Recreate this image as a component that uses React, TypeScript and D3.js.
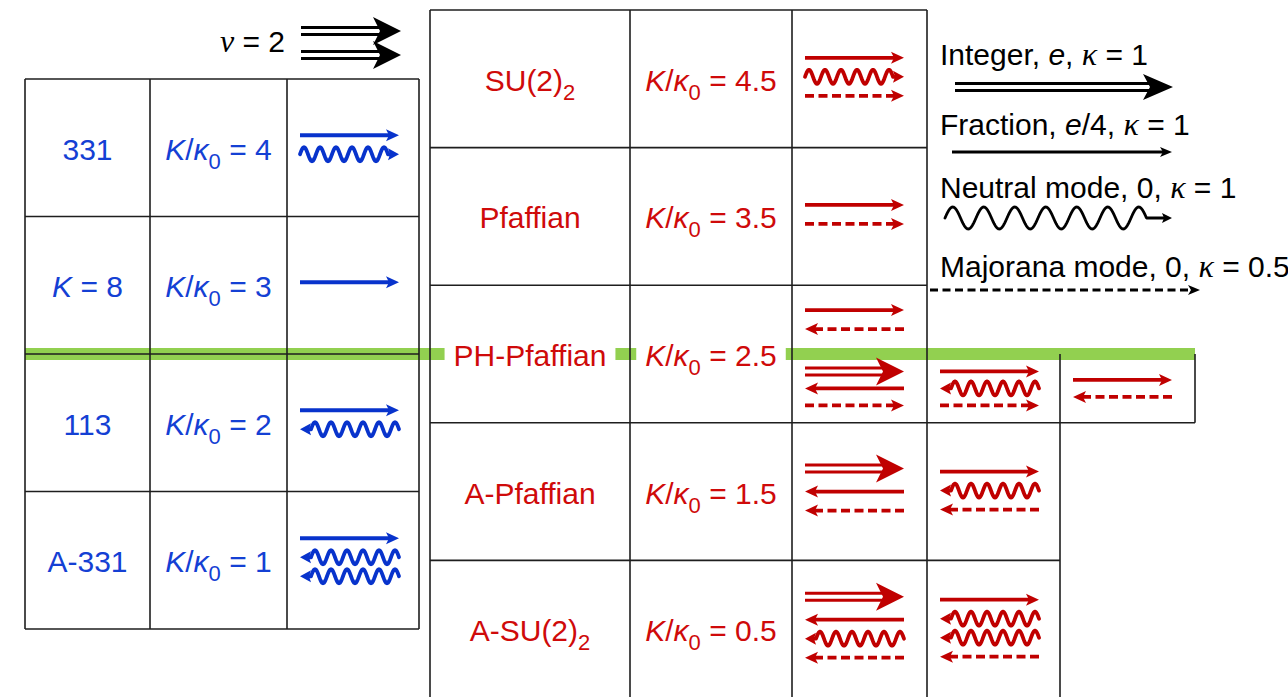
import React, { useEffect, useRef } from "react";
import * as d3 from "d3";

// Mode codes: I = integer, F = fraction, N = neutral, M = Majorana; R/L = direction
const nuModes = ["IR", "IR"];

const leftModels = ["331", "K = 8", "113", "A-331"];
const leftRatios = ["4", "3", "2", "1"];
const leftModes = [["FR", "NR"], ["FR"], ["FR", "NL"], ["FR", "NL", "NL"]];

const rightModels = ["SU(2)", "Pfaffian", "PH-Pfaffian", "A-Pfaffian", "A-SU(2)"];
const rightSubs = ["2", "", "", "", "2"];
const rightRatios = ["4.5", "3.5", "2.5", "1.5", "0.5"];
// modes in the third column (PH-Pfaffian: the part above the green line)
const rightModes = [["FR", "NR", "MR"], ["FR", "MR"], ["FR", "ML"], ["IR", "FL", "ML"], ["IR", "FL", "NL", "ML"]];
// PH-Pfaffian below the green line, columns 3, 4, 5
const phLowerModes = [["IR", "FL", "MR"], ["FR", "NL", "MR"], ["FR", "ML"]];
// fourth column for A-Pfaffian and A-SU(2)2
const extraModes = [["FR", "NL", "ML"], ["FR", "NL", "NL", "ML"]];

const legendLabels = [
  [["Integer, ", ""], ["e", "i"], [", ", ""], ["κ", "k"], [" = 1", ""]],
  [["Fraction, ", ""], ["e", "i"], ["/4, ", ""], ["κ", "k"], [" = 1", ""]],
  [["Neutral mode, 0, ", ""], ["κ", "k"], [" = 1", ""]],
  [["Majorana mode, 0, ", ""], ["κ", "k"], [" = 0.5", ""]],
];
const legendModes = ["IR", "FR", "NR", "MR"];

const SANS = "'Liberation Sans', Arial, Helvetica, sans-serif";
const SERIF = "'Liberation Serif', 'Times New Roman', serif";
const BLUE = "#0833cc";
const BLUE_TXT = "#1440d4";
const RED = "#c00000";
const RED_TXT = "#cf0a0a";
const GREEN = "#92d050";
const FS = 30;

const cellSty = { w: 3.8, len: 13, half: 6, notch: 3, dash: "9 4.5", A: 7, P: 16, nLen: 11, nHalf: 6, nNotch: 2, halves: 0, iW: 3, iGap: 3.5, iLen: 28, iHalf: 14, iNotch: 7 };
const legSty = { w: 2.8, len: 12, half: 5, notch: 3, dash: "8 4.5", A: 11, P: 31, nLen: 10, nHalf: 5, nNotch: 2, halves: 13, iW: 3, iGap: 3.5, iLen: 30, iHalf: 13, iNotch: 7 };

function head(g, tip, y, dir, len, half, notch, color) {
  const b = tip - dir * len;
  const m = tip - dir * (len - notch);
  g.append("path")
    .attr("d", `M${tip},${y}L${b},${y - half}L${m},${y}L${b},${y + half}Z`)
    .attr("fill", color);
}

function drawMode(g, code, x0, x1, y, color, s) {
  const type = code[0];
  const dir = code[1] === "R" ? 1 : -1;
  const tip = dir > 0 ? x1 : x0;
  const tail = dir > 0 ? x0 : x1;
  if (type === "I") {
    const end = tip - dir * s.iLen * 0.6;
    [-s.iGap, s.iGap].forEach((o) =>
      g.append("line")
        .attr("x1", tail).attr("x2", end)
        .attr("y1", y + o).attr("y2", y + o)
        .attr("stroke", color).attr("stroke-width", s.iW)
    );
    head(g, tip, y, dir, s.iLen, s.iHalf, s.iNotch, color);
    return;
  }
  if (type === "F" || type === "M") {
    const end = tip - dir * (s.len - s.notch);
    const ln = g.append("line")
      .attr("x1", tail).attr("x2", end)
      .attr("y1", y).attr("y2", y)
      .attr("stroke", color).attr("stroke-width", s.w);
    if (type === "M") ln.attr("stroke-dasharray", s.dash);
    head(g, tip, y, dir, s.len, s.half, s.notch, color);
    return;
  }
  // neutral: sine wave from the tail, then straight into the head
  const back = tip - dir * (s.nLen - s.nNotch);
  const hp = s.P / 2;
  const n = s.halves || Math.floor(Math.abs(back - tail) / hp);
  const waveLen = n * hp;
  const pts = d3.range(0, waveLen + 0.01, 0.5).map((d) => [
    tail + dir * d,
    y - s.A * Math.sin((2 * Math.PI * d) / s.P),
  ]);
  pts.push([back, y]);
  g.append("path")
    .attr("d", d3.line()(pts))
    .attr("fill", "none")
    .attr("stroke", color)
    .attr("stroke-width", s.w)
    .attr("stroke-linejoin", "round")
    .attr("stroke-linecap", "round");
  head(g, tip, y, dir, s.nLen, s.nHalf, s.nNotch, color);
}

function stack(modes, center, gap, iExtra) {
  const offs = [];
  let cur = 0;
  modes.forEach((m, i) => {
    if (i > 0) cur += gap + (modes[i - 1][0] === "I" ? iExtra : 0);
    offs.push(cur);
  });
  return offs.map((o) => center - cur / 2 + o);
}

function richText(g, x, y, parts, color, anchor) {
  const t = g.append("text")
    .attr("x", x).attr("y", y)
    .attr("text-anchor", anchor)
    .attr("fill", color)
    .attr("font-size", FS)
    .attr("font-family", SANS)
    .style("white-space", "pre");
  parts.forEach(([s, st]) => {
    const ts = t.append("tspan").text(s);
    if (st === "i") ts.attr("font-style", "italic");
    if (st === "k") ts.attr("font-style", "italic").attr("font-family", SERIF).attr("font-size", FS + 2);
    if (st === "sub") ts.attr("font-size", 22).attr("dy", 9);
    if (st === "up") ts.attr("dy", -9);
  });
  return t;
}

const ratioParts = (r) => [["K", "i"], ["/", ""], ["κ", "i"], ["0", "sub"], [" = " + r, "up"]];

export default function App() {
  const ref = useRef(null);

  useEffect(() => {
    document.body.style.overflow = "hidden";
    const svg = d3.select(ref.current);
    svg.selectAll("*").remove();
    const gGreen = svg.append("g");
    const gBg = svg.append("g");
    const gGrid = svg.append("g");
    const gText = svg.append("g");
    const gArrow = svg.append("g");

    const leftY = d3.scaleBand().domain(leftModels).range([79, 629]);
    const rightY = d3.scaleBand().domain(rightModels).range([10, 698]);
    const leftCols = [25, 150, 287, 419];
    const rightCols = [430, 630, 792, 927, 1060, 1195];
    const lineY = leftY("113");
    const lb = leftY.bandwidth();
    const rb = rightY.bandwidth();

    // green separator
    gGreen.append("line")
      .attr("x1", leftCols[0]).attr("x2", rightCols[5])
      .attr("y1", lineY).attr("y2", lineY)
      .attr("stroke", GREEN).attr("stroke-width", 12);

    const seg = (x1, y1, x2, y2) =>
      gGrid.append("line")
        .attr("x1", x1).attr("y1", y1).attr("x2", x2).attr("y2", y2)
        .attr("stroke", "#1e1e1e").attr("stroke-width", 1.6);

    // left table grid
    leftCols.forEach((x) => seg(x, 79, x, 79 + 4 * lb));
    d3.range(5).forEach((i) => seg(leftCols[0], 79 + i * lb, leftCols[3], 79 + i * lb));
    // right table grid
    rightCols.slice(0, 4).forEach((x) => seg(x, 10, x, 10 + 5 * rb));
    d3.range(6).forEach((i) => seg(rightCols[0], 10 + i * rb, rightCols[3], 10 + i * rb));
    // extra cells
    const phBottom = rightY("PH-Pfaffian") + rb;
    const apBottom = rightY("A-Pfaffian") + rb;
    seg(rightCols[4], lineY, rightCols[4], 10 + 5 * rb);
    seg(rightCols[5], lineY, rightCols[5], phBottom);
    seg(rightCols[3], phBottom, rightCols[5], phBottom);
    seg(rightCols[3], apBottom, rightCols[4], apBottom);
    seg(rightCols[3], 10 + 5 * rb, rightCols[4], 10 + 5 * rb);

    // nu = 2 label
    richText(gText, 285, 52, [["ν", "k"], [" = 2", ""]], "#000", "end");
    stack(nuModes, 43, 24, 0).forEach((y) => drawMode(gArrow, "IR", 301, 401, y, "#000", cellSty));

    // left block
    leftModels.forEach((m, i) => {
      const y0 = leftY(m);
      const cy = y0 + lb / 2;
      const parts = m.startsWith("K ") ? [["K", "i"], [m.slice(1), ""]] : [[m, ""]];
      richText(gText, (leftCols[0] + leftCols[1]) / 2, cy + 12, parts, BLUE_TXT, "middle");
      richText(gText, (leftCols[1] + leftCols[2]) / 2, cy + 12, ratioParts(leftRatios[i]), BLUE_TXT, "middle");
      stack(leftModes[i], cy - 3, 19, 4).forEach((y, k) =>
        drawMode(gArrow, leftModes[i][k], leftCols[2] + 13, leftCols[2] + 112, y, BLUE, cellSty)
      );
    });

    // right block
    rightModels.forEach((m, i) => {
      const y0 = rightY(m);
      const cy = y0 + rb / 2;
      const nt = richText(gText, (rightCols[0] + rightCols[1]) / 2, cy + 12,
        rightSubs[i] ? [[m, ""], [rightSubs[i], "sub"]] : [[m, ""]], RED_TXT, "middle");
      const rt = richText(gText, (rightCols[1] + rightCols[2]) / 2, cy + 12, ratioParts(rightRatios[i]), RED_TXT, "middle");
      if (m === "PH-Pfaffian") {
        [nt, rt].forEach((t) => {
          const bb = t.node().getBBox();
          gBg.append("rect")
            .attr("x", bb.x - 9).attr("width", bb.width + 18)
            .attr("y", lineY - 8).attr("height", 16)
            .attr("fill", "#fff");
        });
        const upC = (y0 + lineY) / 2;
        const loC = (lineY + y0 + rb) / 2;
        stack(rightModes[i], upC, 19, 0).forEach((y, k) =>
          drawMode(gArrow, rightModes[i][k], rightCols[2] + 13, rightCols[2] + 112, y, RED, cellSty)
        );
        phLowerModes.forEach((modes, c) => {
          const xl = rightCols[2 + c];
          stack(modes, loC, 17, 0).forEach((y, k) =>
            drawMode(gArrow, modes[k], xl + 13, xl + 112, y, RED, cellSty)
          );
        });
      } else {
        stack(rightModes[i], cy - 2, 19, 4).forEach((y, k) =>
          drawMode(gArrow, rightModes[i][k], rightCols[2] + 13, rightCols[2] + 112, y, RED, cellSty)
        );
        if (i >= 3) {
          const modes = extraModes[i - 3];
          stack(modes, cy - 1, 19, 4).forEach((y, k) =>
            drawMode(gArrow, modes[k], rightCols[3] + 13, rightCols[3] + 112, y, RED, cellSty)
          );
        }
      }
    });

    // legend
    const legTextY = [65, 135, 198, 277];
    const legArrowY = [87, 152, 218, 290];
    const legX = [[955, 1173], [952, 1172], [945, 1172], [930, 1200]];
    legendLabels.forEach((parts, i) => {
      richText(gText, 940, legTextY[i], parts, "#000", "start");
      drawMode(gArrow, legendModes[i], legX[i][0], legX[i][1], legArrowY[i], "#000", legSty);
    });
  }, []);

  return (
    <svg
      ref={ref}
      width={1288}
      height={697}
      style={{ position: "absolute", left: 0, top: 0, background: "#fff" }}
    />
  );
}
